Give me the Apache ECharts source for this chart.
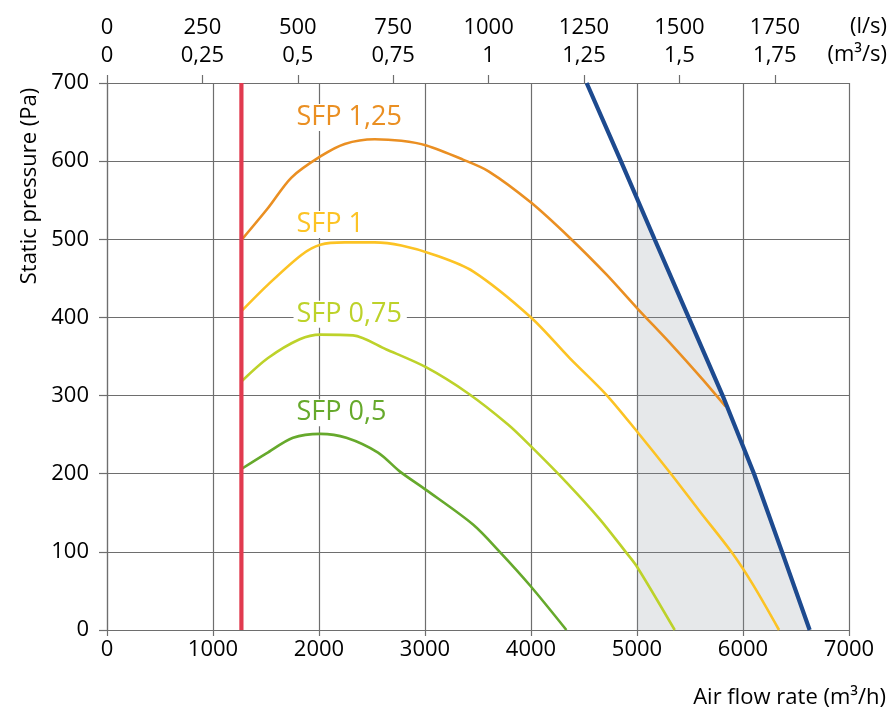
<!DOCTYPE html>
<html>
<head>
<meta charset="utf-8">
<title>SFP fan curves</title>
<script src="https://cdn.jsdelivr.net/npm/echarts@6/dist/echarts.min.js"></script>
<style>
  html, body { margin: 0; padding: 0; background: #fff; }
  #chart { width: 893px; height: 716px; }
</style>
</head>
<body>
<div id="chart"></div>
<script>
'use strict'
// air flow (m3/h) / static pressure (Pa)
var sfp125X = [1268, 1519, 1740, 2013, 2242, 2525, 2777, 3013, 3358, 3600, 4000, 4365, 4711, 5000, 5340, 5623, 5835]
var sfp125Y = [499, 540, 579, 606, 622, 628, 626, 620, 602, 587, 547, 502, 455, 412, 363, 320, 286]

var sfp1X = [1268, 1519, 1834, 2013, 2242, 2525, 2777, 3091, 3453, 4000, 4365, 4711, 5000, 5325, 5591, 5890, 6094, 6340]
var sfp1Y = [408, 442, 480, 493, 496, 496, 492, 480, 459, 400, 348, 301, 254, 199, 152, 100, 58, 0]

var sfp075X = [1268, 1519, 1818, 2013, 2321, 2636, 3013, 3405, 3783, 4000, 4334, 4648, 4893, 5000, 5356]
var sfp075Y = [318, 348, 372, 378, 377, 359, 336, 303, 263, 235, 189, 142, 100, 81, 0]

var sfp05X = [1268, 1504, 1755, 2013, 2258, 2557, 2761, 3013, 3453, 3705, 3997, 4334]
var sfp05Y = [206, 226, 246, 251, 246, 227, 203, 179, 135, 100, 56, 0]

// max flow line and min flow limit
var limitX = [4525, 4848, 5166, 5487, 5808, 6104, 6368, 6629]
var limitY = [700, 600, 500, 400, 300, 200, 100, 0]
var minFlowX = [1268, 1268]
var minFlowY = [0, 700]
var zoneStart = 5000

var sfpNames = ['SFP 1,25', 'SFP 1', 'SFP 0,75', 'SFP 0,5']

// top axis: l/s and m3/s
var topTicksLs = [0, 250, 500, 750, 1000, 1250, 1500, 1750]
var topTicksM3s = ['0', '0,25', '0,5', '0,75', '1', '1,25', '1,5', '1,75']

var FONT = '"Open Sans", "Noto Sans", sans-serif'
var GRID = '#6e6e6e'

function pairs(xs, ys) {
  var out = []
  for (var i = 0; i < xs.length; i++) out.push([xs[i], ys[i]])
  return out
}

// part of the limit line right of x0, starting exactly at x0
function cutFrom(xs, ys, x0) {
  var out = []
  for (var i = 0; i < xs.length - 1; i++) {
    if (xs[i] <= x0 && xs[i + 1] > x0) {
      var t = (x0 - xs[i]) / (xs[i + 1] - xs[i])
      out.push([x0, ys[i] + t * (ys[i + 1] - ys[i])])
    }
    if (xs[i + 1] > x0) out.push([xs[i + 1], ys[i + 1]])
  }
  return out
}

function sfpSeries(name, xs, ys, color, at) {
  return {
    name: name,
    type: 'line',
    data: pairs(xs, ys),
    smooth: 0.3,
    symbol: 'none',
    z: 3,
    lineStyle: { color: color, width: 2.6 },
    markPoint: {
      symbol: 'rect',
      symbolSize: 1,
      itemStyle: { color: 'rgba(0,0,0,0)' },
      label: {
        show: true,
        position: 'right',
        distance: 0,
        formatter: name,
        color: color,
        fontFamily: FONT,
        fontSize: 27,
        backgroundColor: '#fff',
        padding: [0, 5, 0, 3]
      },
      data: [{ coord: at }]
    }
  }
}

var chart = echarts.init(document.getElementById('chart'))

var option = {
  animation: false,
  grid: { left: 107, right: 44, top: 83, bottom: 86 },
  xAxis: [
    {
      type: 'value',
      min: 0,
      max: 7000,
      interval: 1000,
      axisLine: { show: true, lineStyle: { color: GRID, width: 1.2 } },
      axisTick: { show: true, length: 6, lineStyle: { color: GRID, width: 1.2 } },
      axisLabel: {
        color: '#000', fontFamily: FONT, fontSize: 22, margin: 9,
        formatter: function(v) { return String(v) }
      },
      splitLine: { show: true, lineStyle: { color: GRID, width: 1.2 } }
    },
    {
      type: 'value',
      position: 'top',
      min: 0,
      max: 7000 / 3.6,
      interval: 250,
      axisLine: { show: true, lineStyle: { color: GRID, width: 1.2 } },
      axisTick: { show: true, length: 8, customValues: topTicksLs, lineStyle: { color: GRID, width: 1.2 } },
      axisLabel: {
        customValues: topTicksLs,
        color: '#000',
        fontFamily: FONT,
        fontSize: 22,
        lineHeight: 28,
        margin: 13,
        formatter: function(v) {
          var i = topTicksLs.indexOf(v)
          if (i < 0) return ''
          return v + '\n' + topTicksM3s[i]
        }
      },
      splitLine: { show: false }
    }
  ],
  yAxis: {
    type: 'value',
    min: 0,
    max: 700,
    interval: 100,
    axisLine: { show: true, lineStyle: { color: GRID, width: 1.2 } },
    axisTick: { show: true, length: 8, lineStyle: { color: GRID, width: 1.2 } },
    axisLabel: { color: '#000', fontFamily: FONT, fontSize: 22, margin: 18 },
    splitLine: { show: true, lineStyle: { color: GRID, width: 1.2 } }
  },
  graphic: [
    {
      type: 'text', x: 30, y: 186, rotation: Math.PI / 2,
      style: { text: 'Static pressure (Pa)', font: '22px ' + FONT, fill: '#000', align: 'center', verticalAlign: 'middle' }
    },
    {
      type: 'text', x: 886, y: 698,
      style: { text: 'Air flow rate (m³/h)', font: '22px ' + FONT, fill: '#000', align: 'right', verticalAlign: 'middle' }
    },
    {
      type: 'text', x: 887, y: 27,
      style: { text: '(l/s)', font: '22px ' + FONT, fill: '#000', align: 'right', verticalAlign: 'middle' }
    },
    {
      type: 'text', x: 887, y: 55,
      style: { text: '(m³/s)', font: '22px ' + FONT, fill: '#000', align: 'right', verticalAlign: 'middle' }
    }
  ],
  series: [
    {
      name: 'zone',
      type: 'line',
      data: cutFrom(limitX, limitY, zoneStart),
      symbol: 'none',
      silent: true,
      z: 1,
      lineStyle: { width: 0 },
      areaStyle: { color: 'rgba(140,148,160,0.22)', opacity: 1 }
    },
    sfpSeries(sfpNames[0], sfp125X, sfp125Y, '#ea8f22', [1755, 656]),
    sfpSeries(sfpNames[1], sfp1X, sfp1Y, '#fcc324', [1755, 519]),
    sfpSeries(sfpNames[2], sfp075X, sfp075Y, '#bdd22a', [1755, 404]),
    sfpSeries(sfpNames[3], sfp05X, sfp05Y, '#66a92c', [1755, 278]),
    {
      name: 'min flow',
      type: 'line',
      data: pairs(minFlowX, minFlowY),
      symbol: 'none',
      z: 4,
      lineStyle: { color: '#e13a4f', width: 4.2 }
    },
    {
      name: 'max flow',
      type: 'line',
      data: pairs(limitX, limitY),
      symbol: 'none',
      z: 4,
      lineStyle: { color: '#1d4a8f', width: 4.2 }
    }
  ]
}

chart.setOption(option)
</script>
</body>
</html>
